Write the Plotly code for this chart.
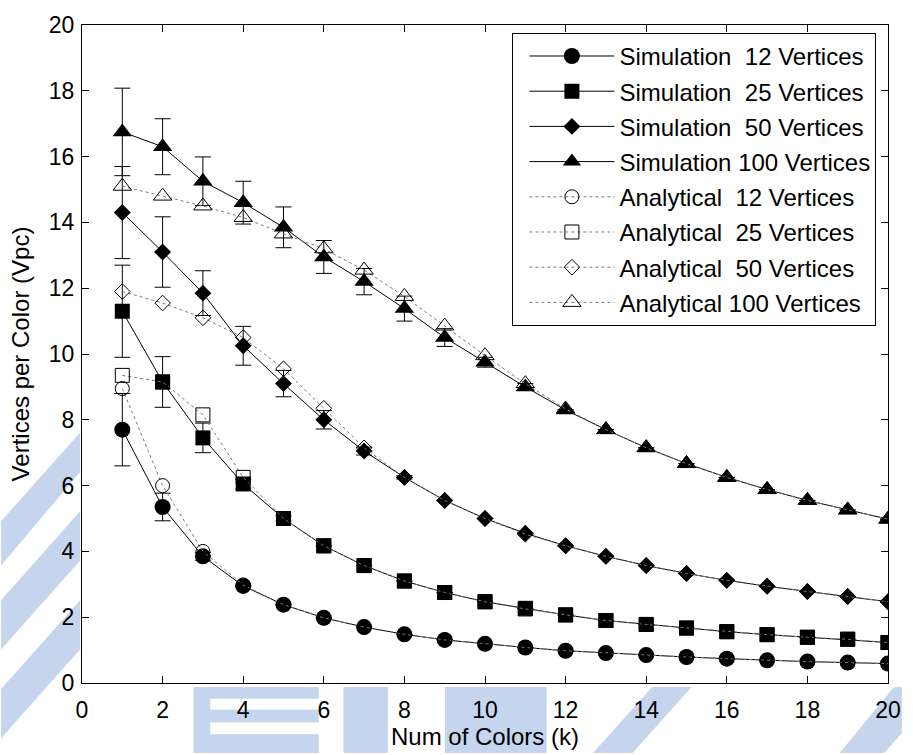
import plotly.graph_objects as go

# Number of colours k
k = list(range(1, 21))

# Simulated vertices per colour (mean) and their error half-widths
sim_12 = [7.7, 5.35, 3.85, 2.95, 2.38, 1.98, 1.7, 1.48, 1.31, 1.19, 1.08, 0.98, 0.91, 0.85, 0.79, 0.74, 0.69, 0.65, 0.62, 0.59]
sim_25 = [11.3, 9.15, 7.45, 6.05, 5.0, 4.17, 3.57, 3.1, 2.75, 2.47, 2.27, 2.07, 1.9, 1.78, 1.67, 1.56, 1.47, 1.39, 1.33, 1.23]
sim_50 = [14.3, 13.1, 11.85, 10.25, 9.1, 8.0, 7.05, 6.25, 5.55, 5.0, 4.55, 4.17, 3.85, 3.57, 3.33, 3.12, 2.94, 2.78, 2.63, 2.47]
sim_100 = [16.75, 16.3, 15.25, 14.6, 13.85, 12.95, 12.2, 11.38, 10.5, 9.75, 9.0, 8.3, 7.7, 7.15, 6.67, 6.25, 5.88, 5.55, 5.26, 4.98]

err_12 = [1.1, 0.42, 0.12] + [None] * 17
err_25 = [1.4, 0.77, 0.45, 0.15, 0.08] + [None] * 15
err_50 = [1.4, 1.07, 0.68, 0.59, 0.4, 0.28, 0.12, 0.05] + [None] * 12
err_100 = [1.33, 0.85, 0.74, 0.65, 0.62, 0.5, 0.4, 0.38, 0.27, 0.15, 0.1] + [None] * 9

# Analytical vertices per colour
ana_12 = [8.95, 6.0, 4.0, 2.98, 2.38, 1.98, 1.7, 1.48, 1.31, 1.19, 1.08, 0.98, 0.91, 0.85, 0.79, 0.74, 0.69, 0.65, 0.62, 0.59]
ana_25 = [9.35, 9.15, 8.15, 6.25, 5.0, 4.17, 3.57, 3.1, 2.75, 2.47, 2.25, 2.07, 1.9, 1.78, 1.67, 1.56, 1.47, 1.39, 1.33, 1.23]
ana_50 = [11.9, 11.55, 11.1, 10.5, 9.55, 8.35, 7.15, 6.25, 5.55, 5.0, 4.52, 4.17, 3.85, 3.57, 3.33, 3.12, 2.94, 2.78, 2.63, 2.47]
ana_100 = [15.1, 14.8, 14.5, 14.15, 13.65, 13.2, 12.55, 11.75, 10.85, 9.95, 9.1, 8.33, 7.7, 7.15, 6.67, 6.25, 5.88, 5.55, 5.26, 4.98]

x_ticks = list(range(0, 21, 2))
y_ticks = list(range(0, 21, 2))

FONT = "Liberation Sans, Arial, sans-serif"
W, H = 913, 755
M_L, M_R, M_T, M_B = 82, 14, 17, 71

sim_series = [
    ("Simulation\u00a0\u00a012 Vertices", sim_12, err_12, "circle", 16),
    ("Simulation\u00a0\u00a025 Vertices", sim_25, err_25, "square", 15),
    ("Simulation\u00a0\u00a050 Vertices", sim_50, err_50, "diamond", 13),
    ("Simulation 100 Vertices", sim_100, err_100, "triangle-up", 17),
]
ana_series = [
    ("Analytical\u00a0\u00a012 Vertices", ana_12, "circle-open", 14),
    ("Analytical\u00a0\u00a025 Vertices", ana_25, "square-open", 14),
    ("Analytical\u00a0\u00a050 Vertices", ana_50, "diamond-open", 12),
    ("Analytical 100 Vertices", ana_100, "triangle-up-open", 16),
]

fig = go.Figure()

for i, (name, vals, err, sym, size) in enumerate(sim_series):
    fig.add_trace(go.Scatter(
        x=k, y=vals, name=name, mode="lines+markers",
        legendgroup=f"g{i}",
        line=dict(color="black", width=1),
        marker=dict(symbol=sym, size=size, color="black", line=dict(width=0)),
        error_y=dict(type="data", array=err, visible=True, color="black",
                     thickness=1, width=8),
    ))

for j, (name, vals, sym, size) in enumerate(ana_series):
    fig.add_trace(go.Scatter(
        x=k, y=vals, name=name, mode="lines+markers",
        legendgroup=f"h{j}",
        line=dict(color="#7a7a7a", width=1, dash="dot"),
        marker=dict(symbol=sym, size=size, color="black", line=dict(width=1, color="black")),
    ))

# Faint page watermark showing through the figure margins (pixel outlines)
watermark = [
    [(195, 688), (212, 688), (212, 755), (195, 755)],
    [(212, 688), (322, 688), (322, 700), (212, 700)],
    [(212, 711), (322, 711), (322, 724), (212, 724)],
    [(212, 736), (322, 736), (322, 755), (212, 755)],
    [(347, 688), (392, 688), (392, 755), (347, 755)],
    [(450, 688), (553, 688), (553, 755), (450, 755)],
    [(600, 755), (640, 755), (700, 688), (660, 688)],
    [(850, 755), (895, 755), (913, 735), (913, 688), (905, 688)],
    [(0, 520), (80, 430), (80, 470), (0, 565)],
    [(0, 600), (80, 510), (80, 560), (0, 650)],
    [(0, 690), (80, 600), (80, 650), (0, 740)],
]
pw, ph = W - M_L - M_R, H - M_T - M_B
shapes = []
for poly in watermark:
    pts = [((px - M_L) / pw, (H - M_B - py) / ph) for px, py in poly]
    path = "M " + " L ".join(f"{a:.4f},{b:.4f}" for a, b in pts) + " Z"
    shapes.append(dict(type="path", path=path, xref="paper", yref="paper",
                       fillcolor="rgba(150,178,222,0.55)", line=dict(width=0),
                       layer="below"))

axis_common = dict(
    showline=True, linecolor="black", linewidth=1, mirror="ticks",
    ticks="inside", ticklen=7, tickcolor="black", tickwidth=1,
    showgrid=False, zeroline=False,
    tickfont=dict(family=FONT, size=23, color="black"),
)

fig.update_layout(
    width=W, height=H,
    margin=dict(l=M_L, r=M_R, t=M_T, b=M_B),
    paper_bgcolor="white", plot_bgcolor="white",
    font=dict(family=FONT, size=23, color="black"),
    shapes=shapes,
    xaxis=dict(range=[0, 20], tickvals=x_ticks, ticklabelstandoff=6,
               title=dict(text="Num of Colors (k)", standoff=4,
                          font=dict(family=FONT, size=24)),
               **axis_common),
    yaxis=dict(range=[0, 20], tickvals=y_ticks, ticklabelstandoff=2,
               title=dict(text="Vertices per Color (Vpc)", standoff=12,
                          font=dict(family=FONT, size=24)),
               **axis_common),
    legend=dict(
        x=0.534, y=0.988, xanchor="left", yanchor="top",
        bgcolor="white", bordercolor="black", borderwidth=1,
        font=dict(family=FONT, size=24, color="black"),
        tracegroupgap=1, itemwidth=85, indentation=11,
    ),
    showlegend=True,
)

fig.write_html("out.html")
